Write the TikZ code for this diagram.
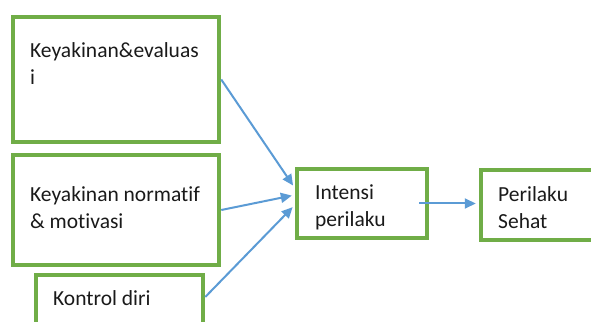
\documentclass[tikz,border=0pt]{standalone}
\usepackage{fontspec}
\setmainfont[Ligatures=CommonOff]{Carlito}
\usetikzlibrary{arrows.meta}
\definecolor{boxgreen}{HTML}{70AD47}
\definecolor{arrowblue}{HTML}{5B9BD5}
\definecolor{txt}{HTML}{1A1A1A}
\begin{document}
\begin{tikzpicture}[x=1pt,y=1pt,
  greenbox/.style={draw=boxgreen,line width=4.5pt,fill=white,inner sep=0pt},
  label/.style={anchor=base west,inner sep=0pt,align=left,text=txt,
    font=\fontsize{21.5}{27}\selectfont},
  conn/.style={draw=arrowblue,line width=2pt,-{Triangle[length=11pt,width=10pt]},shorten >=3pt}]
\useasboundingbox (0,0) rectangle (591,321);
\clip (0,0) rectangle (591,321);
\fill[white] (0,0) rectangle (591,321);
\node[greenbox,minimum width=206pt,minimum height=125pt] (b1) at (116,241.5) {};
\node[greenbox,minimum width=206pt,minimum height=110pt] (b2) at (116,111) {};
\node[greenbox,minimum width=167pt,minimum height=49pt] (b3) at (119.5,21.5) {};
\node[greenbox,minimum width=130pt,minimum height=69pt] (b4) at (362,117.5) {};
\node[greenbox,minimum width=138pt,minimum height=70pt] (b5) at (550,116) {};
\node[label] (t1) at (30,236) {Keyakinan\&evaluas\\i};
\node[label] (t2) at (30,92) {Keyakinan normatif\\\& motivasi};
\node[label] (t3) at (53,16) {Kontrol diri};
\node[label] (t4) at (315,94) {Intensi\\perilaku};
\node[label] (t5) at (498,92) {Perilaku\\Sehat};
\draw[conn] (b1.east) -- ([yshift=15.5pt]b4.west);
\draw[conn] (b2.east) -- ([yshift=8.5pt]b4.west);
\draw[conn] ([yshift=2.5pt]b3.east) -- ([yshift=-1.5pt]b4.west);
\coordinate (s4) at ([xshift=-10pt]b4.east);
\draw[conn] (s4) -- (s4 -| b5.west);
\end{tikzpicture}
\end{document}
